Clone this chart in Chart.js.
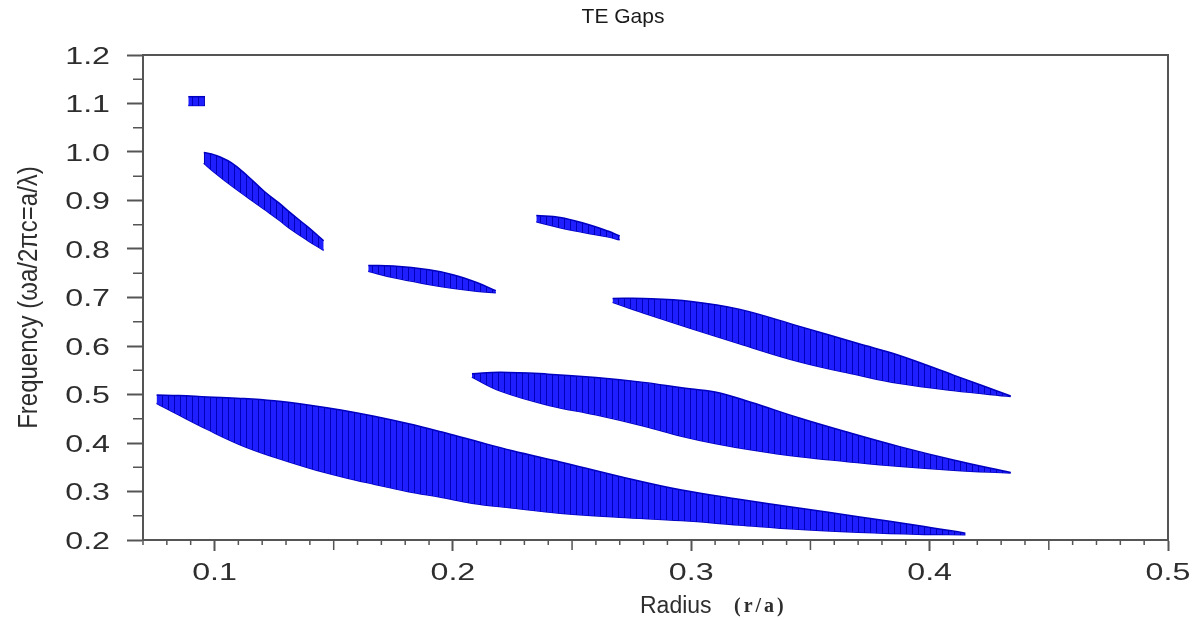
<!DOCTYPE html>
<html>
<head>
<meta charset="UTF-8">
<title>TE Gaps</title>
<script src="https://cdn.jsdelivr.net/npm/chart.js"></script>
<style>
    body { margin: 0; background: #fff; }
    canvas { display: block; }
</style>
</head>
<body>
<canvas id="gapChart" width="1203" height="620"></canvas>
<script>
    // tick labels
    const xMajor = [0.1, 0.2, 0.3, 0.4, 0.5];
    const yMajor = [0.2, 0.3, 0.4, 0.5, 0.6, 0.7, 0.8, 0.9, 1.0, 1.1, 1.2];

    // gap bands: radius, upper edge, lower edge
    const band1X  = [0.0757, 0.085, 0.097, 0.111, 0.125, 0.14, 0.153, 0.167, 0.181, 0.195, 0.208, 0.225, 0.245, 0.27, 0.296, 0.32, 0.345, 0.37, 0.395, 0.415];
    const band1Hi = [0.499, 0.498, 0.495, 0.492, 0.487, 0.478, 0.468, 0.455, 0.440, 0.423, 0.406, 0.384, 0.361, 0.331, 0.303, 0.284, 0.266, 0.248, 0.230, 0.214];
    const band1Lo = [0.482, 0.458, 0.428, 0.396, 0.371, 0.348, 0.331, 0.315, 0.300, 0.288, 0.276, 0.266, 0.255, 0.247, 0.240, 0.231, 0.222, 0.216, 0.212, 0.211];

    const band2X  = [0.208, 0.22, 0.24, 0.26, 0.28, 0.296, 0.31, 0.325, 0.345, 0.365, 0.387, 0.41, 0.434];
    const band2Hi = [0.543, 0.546, 0.542, 0.535, 0.525, 0.514, 0.505, 0.484, 0.452, 0.423, 0.393, 0.365, 0.339];
    const band2Lo = [0.536, 0.507, 0.478, 0.458, 0.435, 0.414, 0.399, 0.386, 0.372, 0.362, 0.352, 0.344, 0.338];

    const band3X  = [0.267, 0.28, 0.3, 0.32, 0.345, 0.37, 0.387, 0.41, 0.434];
    const band3Hi = [0.698, 0.698, 0.692, 0.676, 0.641, 0.605, 0.581, 0.540, 0.497];
    const band3Lo = [0.690, 0.668, 0.636, 0.605, 0.568, 0.540, 0.523, 0.508, 0.496];

    const band4X  = [0.1645, 0.175, 0.19, 0.2, 0.21, 0.218];
    const band4Hi = [0.766, 0.765, 0.757, 0.747, 0.731, 0.714];
    const band4Lo = [0.754, 0.741, 0.727, 0.719, 0.713, 0.710];

    const band5X  = [0.235, 0.245, 0.255, 0.265, 0.27];
    const band5Hi = [0.869, 0.865, 0.853, 0.837, 0.827];
    const band5Lo = [0.856, 0.844, 0.834, 0.825, 0.819];

    const band6X  = [0.0955, 0.1, 0.107, 0.114, 0.1208, 0.127, 0.132, 0.139, 0.1458];
    const band6Hi = [0.999, 0.994, 0.978, 0.950, 0.919, 0.895, 0.874, 0.846, 0.817];
    const band6Lo = [0.977, 0.958, 0.931, 0.906, 0.882, 0.860, 0.841, 0.818, 0.797];

    const band7X  = [0.089, 0.096];
    const band7Hi = [1.114, 1.114];
    const band7Lo = [1.096, 1.096];

    const bands = [
        [band1X, band1Hi, band1Lo],
        [band2X, band2Hi, band2Lo],
        [band3X, band3Hi, band3Lo],
        [band4X, band4Hi, band4Lo],
        [band5X, band5Hi, band5Lo],
        [band6X, band6Hi, band6Lo],
        [band7X, band7Hi, band7Lo]
    ];

    const axisColor = '#555555';
    const labelColor = '#2e2e2e';
    const sansFont = '"Liberation Sans", Arial, sans-serif';

    // vertical hatch like the bar lines in the original
    function hatchPattern() {
        const c = document.createElement('canvas');
        c.width = 6;
        c.height = 6;
        const g = c.getContext('2d');
        g.fillStyle = '#1e1eff';
        g.fillRect(0, 0, 6, 6);
        g.fillStyle = '#0000b8';
        g.fillRect(0, 0, 1, 6);
        return g.createPattern(c, 'repeat');
    }

    const hatch = hatchPattern();
    const datasets = [];
    bands.forEach(([xs, hi, lo]) => {
        const common = {
            showLine: true,
            pointRadius: 0,
            borderColor: '#0000c0',
            borderWidth: 1.5,
            tension: 0.4
        };
        datasets.push(Object.assign({
            data: xs.map((x, i) => ({x: x, y: hi[i]})),
            fill: '+1',
            backgroundColor: hatch
        }, common));
        datasets.push(Object.assign({
            data: xs.map((x, i) => ({x: x, y: lo[i]})),
            fill: false
        }, common));
    });

    // wide tick labels (the original font is stretched sideways)
    function drawWide(ctx, text, x, y, align) {
        const sx = 1.4;
        ctx.save();
        ctx.translate(x, y);
        ctx.scale(sx, 1);
        ctx.textAlign = align;
        ctx.fillText(text, 0, 0);
        ctx.restore();
    }

    const decorPlugin = {
        id: 'decor',
        afterDraw(chart) {
            const {ctx, chartArea: a, scales: {x, y}} = chart;
            ctx.save();
            ctx.strokeStyle = axisColor;
            ctx.lineWidth = 2;
            ctx.beginPath();
            ctx.moveTo(a.left, a.top);
            ctx.lineTo(a.right, a.top);
            ctx.lineTo(a.right, a.bottom);
            ctx.stroke();

            // minor ticks
            ctx.lineWidth = 1.5;
            ctx.beginPath();
            for (let k = 7; k <= 50; k++) {
                if (k % 10 === 0) continue;
                const px = x.getPixelForValue(k / 100);
                const len = (k % 5 === 0) ? 10 : 5;
                ctx.moveTo(px, a.bottom);
                ctx.lineTo(px, a.bottom + len);
            }
            for (let k = 25; k < 120; k += 10) {
                const py = y.getPixelForValue(k / 100);
                ctx.moveTo(a.left, py);
                ctx.lineTo(a.left - 10, py);
            }
            ctx.stroke();

            // tick labels from the scales' own ticks
            ctx.fillStyle = labelColor;
            ctx.font = '23px ' + sansFont;
            ctx.textBaseline = 'alphabetic';
            x.ticks.forEach((t, i) => {
                drawWide(ctx, t.value.toFixed(1), x.getPixelForTick(i), 580, 'center');
            });
            y.ticks.forEach((t, i) => {
                drawWide(ctx, t.value.toFixed(1), 110, y.getPixelForTick(i) + 8.5, 'right');
            });

            // titles
            ctx.fillStyle = '#1a1a1a';
            ctx.font = '21px ' + sansFont;
            ctx.textAlign = 'center';
            ctx.fillText('TE Gaps', 623, 23);

            ctx.fillStyle = labelColor;
            ctx.font = '23px ' + sansFont;
            ctx.textAlign = 'left';
            ctx.fillText('Radius', 640, 613);
            ctx.font = 'bold 20px "Liberation Serif", "Times New Roman", serif';
            ctx.letterSpacing = '3px';
            ctx.fillText('(r/a)', 734, 612);
            ctx.letterSpacing = '0px';

            ctx.translate(37, (a.top + a.bottom) / 2);
            ctx.rotate(-Math.PI / 2);
            ctx.scale(1, 1.15);
            ctx.textAlign = 'center';
            ctx.font = '24px ' + sansFont;
            ctx.fillText('Frequency (\u03c9a/2\u03c0c=a/\u03bb)', 0, 0);
            ctx.restore();
        }
    };

    new Chart(document.getElementById('gapChart'), {
        type: 'line',
        data: {datasets: datasets},
        plugins: [decorPlugin],
        options: {
            responsive: false,
            animation: false,
            layout: {padding: {top: 55, right: 35}},
            plugins: {legend: {display: false}, tooltip: {enabled: false}},
            scales: {
                x: {
                    type: 'linear',
                    min: 0.07,
                    max: 0.5,
                    afterBuildTicks: s => { s.ticks = xMajor.map(v => ({value: v})); },
                    afterFit: s => { s.height = 80; },
                    ticks: {display: false, autoSkip: false, maxRotation: 0},
                    grid: {drawOnChartArea: false, tickLength: 11, tickColor: axisColor, tickWidth: 2},
                    border: {color: axisColor, width: 2}
                },
                y: {
                    min: 0.2,
                    max: 1.2,
                    afterBuildTicks: s => { s.ticks = yMajor.map(v => ({value: v})); },
                    afterFit: s => { s.width = 143; },
                    ticks: {display: false},
                    grid: {drawOnChartArea: false, tickLength: 16, tickColor: axisColor, tickWidth: 2},
                    border: {color: axisColor, width: 2}
                }
            }
        }
    });
</script>
</body>
</html>
